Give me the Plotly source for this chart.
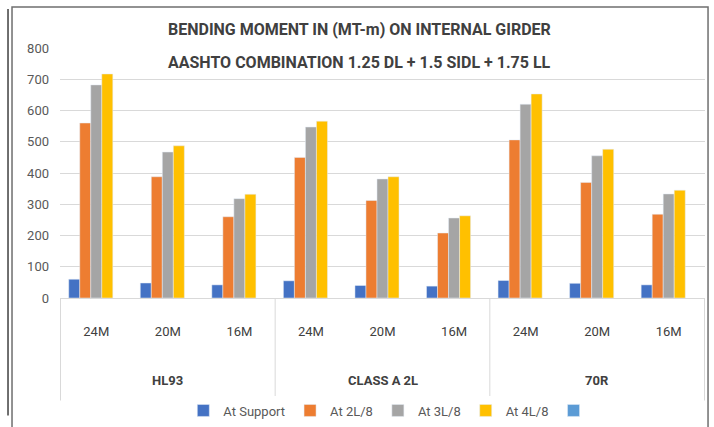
import plotly.graph_objects as go

# bridge spans grouped by loading
groups = ["HL93", "CLASS A 2L", "70R"]
spans = ["24M", "20M", "16M"]

# bending moment (MT-m), one list per section, in the order HL93, CLASS A 2L, 70R x 24M, 20M, 16M
at_support = [60, 48, 42, 55, 40, 38, 56, 47, 42]
at_2l8 = [560, 388, 260, 450, 312, 208, 506, 370, 268]
at_3l8 = [682, 467, 318, 547, 381, 256, 620, 455, 333]
at_4l8 = [717, 487, 332, 566, 388, 263, 653, 476, 345]
# the original has a fifth, empty, unnamed series that still takes a slot in each cluster
unnamed = [None, None, None, None, None, None, None, None, None]

series = [
    ("At Support", at_support, "#4472C4"),
    ("At 2L/8", at_2l8, "#ED7D31"),
    ("At 3L/8", at_3l8, "#A5A5A5"),
    ("At 4L/8", at_4l8, "#FFC000"),
    (" ", unnamed, "#5B9BD5"),
]

cats = [g + " " + s for g in groups for s in spans]
labels = [s for g in groups for s in spans]

FONT = "Roboto, sans-serif"

fig = go.Figure()
for name, vals, col in series:
    fig.add_trace(go.Bar(x=cats, y=vals, name=name, marker_color=col))

fig.update_layout(
    width=714, height=427,
    margin=dict(l=60, r=9, t=48, b=129, autoexpand=False),
    paper_bgcolor="white", plot_bgcolor="white",
    barmode="group", bargap=0.23, bargroupgap=0,
    font=dict(family=FONT, color="#595959", size=12),
    showlegend=True,
    legend=dict(orientation="h", x=0.516, xanchor="center", y=-0.39, yanchor="top",
                font=dict(size=13, color="#595959"), itemwidth=30,
                traceorder="normal", tracegroupgap=0),
)

fig.update_yaxes(range=[0, 800], dtick=100, showgrid=True, gridcolor="#D9D9D9",
                 zeroline=False, showline=False, tickfont=dict(size=13, color="#595959"),
                 ticklabelstandoff=10, automargin=False)
fig.update_xaxes(type="category", tickvals=cats, ticktext=labels, showgrid=False,
                 showline=True, linecolor="#D9D9D9", ticks="",
                 tickfont=dict(size=13, color="#404040", family=FONT),
                 ticklabelstandoff=21, automargin=False)

# group labels and dividers under the axis
for i, g in enumerate(groups):
    fig.add_annotation(x=i * 3 + 1, y=-0.328, xref="x", yref="paper", yanchor="middle",
                       text="<b>" + g + "</b>", showarrow=False,
                       font=dict(size=13, color="#404040"))
for xv in [-0.5, 2.5, 5.5, 8.5]:
    fig.add_shape(type="line", xref="x", yref="paper", x0=xv, x1=xv, y0=0, y1=-0.41,
                  line=dict(color="#D9D9D9", width=1))

# title lines
fig.add_annotation(x=0.465, y=1.072, xref="paper", yref="paper", yanchor="middle",
                   showarrow=False, text="<b>BENDING MOMENT IN (MT-m) ON INTERNAL GIRDER</b>",
                   font=dict(size=16, color="#404040"))
fig.add_annotation(x=0.465, y=0.944, xref="paper", yref="paper", yanchor="middle",
                   showarrow=False, text="<b>AASHTO COMBINATION 1.25 DL + 1.5 SIDL + 1.75 LL</b>",
                   font=dict(size=16, color="#404040"))

# chart frame and the neighbouring border on the left
fig.add_shape(type="rect", xref="paper", yref="paper", x0=-0.0744, x1=1.0047, y0=-0.53, y1=1.164,
              line=dict(color="#6F6F6F", width=1.5))
fig.add_shape(type="line", xref="paper", yref="paper", x0=-0.0806, x1=-0.0806, y0=-0.47, y1=1.156,
              line=dict(color="#404040", width=1.5))

# page body has a default margin; drop it so the figure fills the window
fig.write_html("out.html", config={"displayModeBar": False},
               post_script="document.body.style.margin='0';")
